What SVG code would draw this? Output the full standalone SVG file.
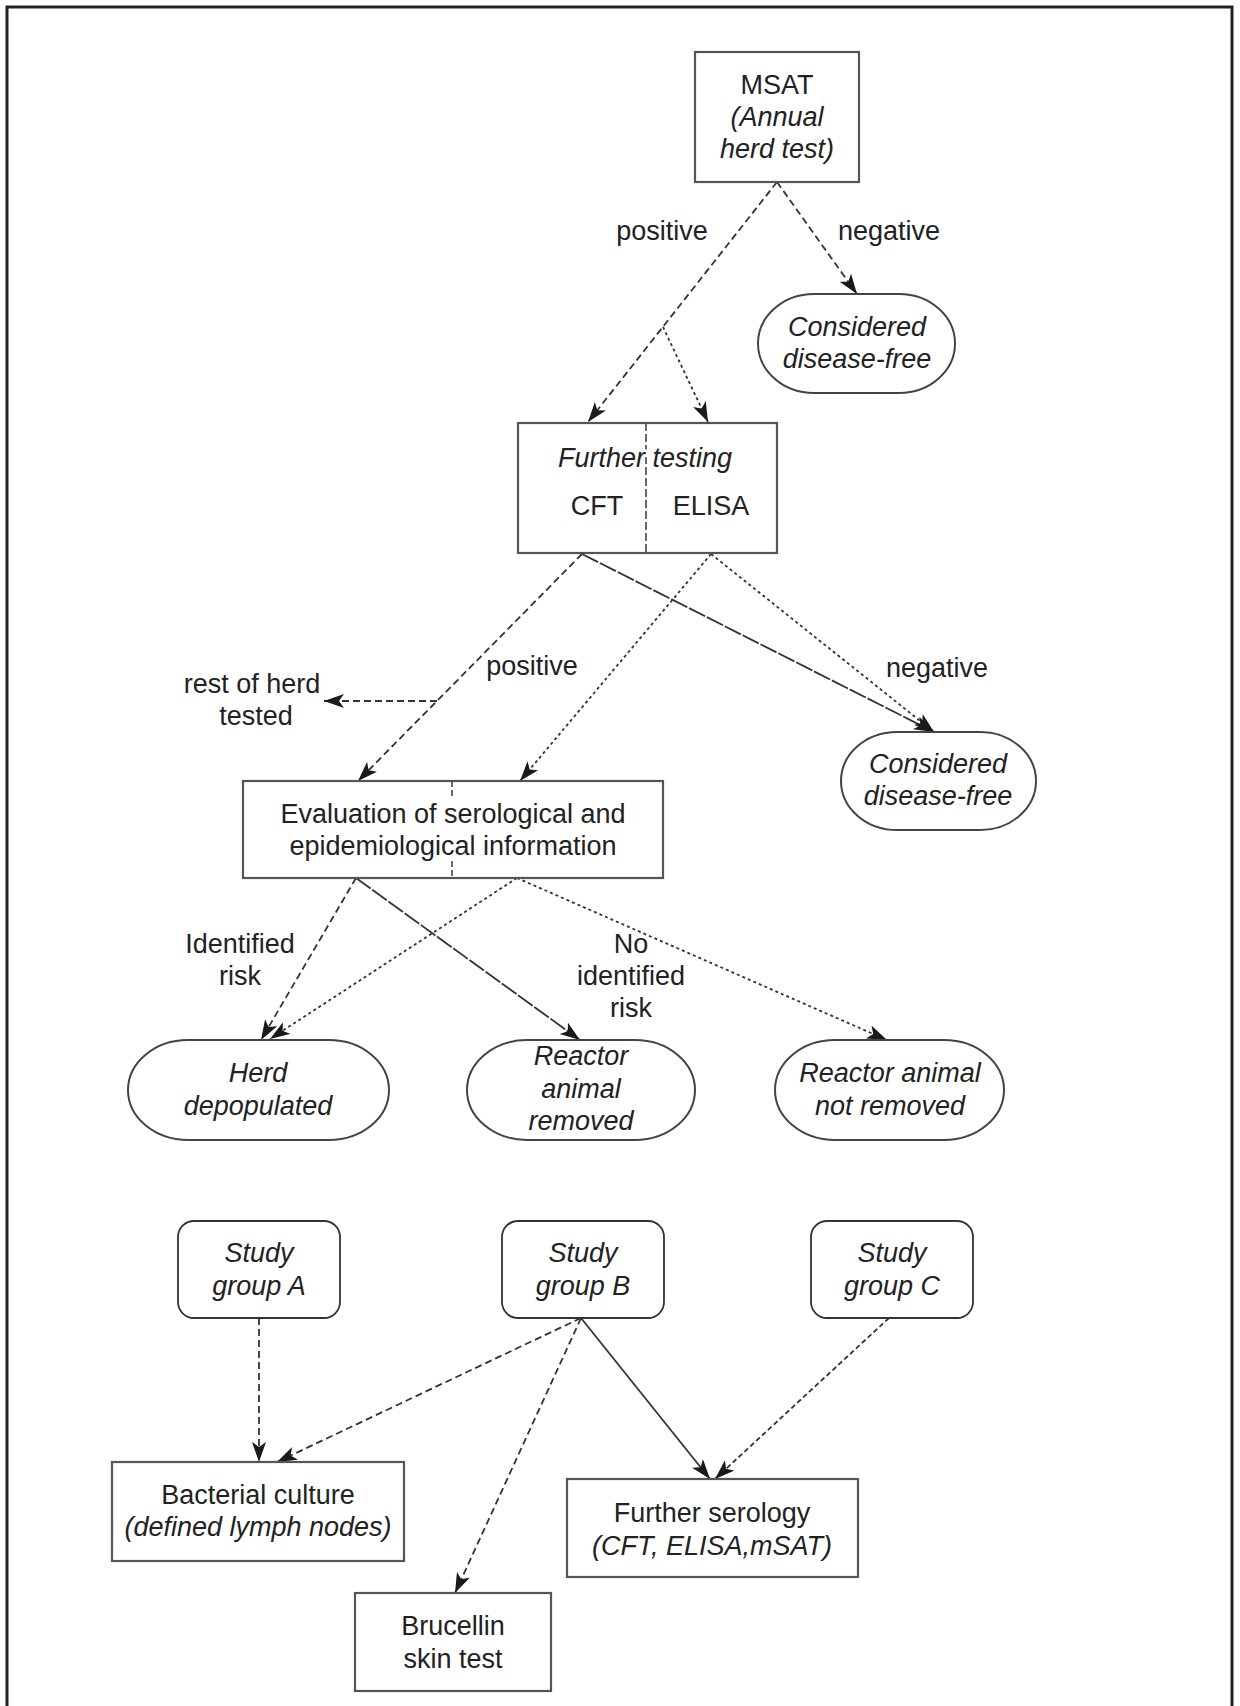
<svg xmlns="http://www.w3.org/2000/svg" width="1240" height="1706" viewBox="0 0 1240 1706">
<style>
  text { font-family: "Liberation Sans", Arial, sans-serif; font-size: 27px; fill: #222; text-anchor: middle; }
  .it { font-style: italic; }
  .box { fill: #fff; stroke: #555; stroke-width: 2.2; }
  .rbox { fill: #fff; stroke: #333; stroke-width: 1.8; }
  .oval { fill: #fff; stroke: #444; stroke-width: 2; }
  .div { stroke: #444; stroke-width: 1.6; stroke-dasharray: 8 3; fill: none; }
  .e { fill: none; stroke: #333; stroke-width: 1.8; }
  .d1 { stroke-dasharray: 7 4; }
  .d2 { stroke-dasharray: 3 3; }
  .d3 { stroke-dasharray: 18 2; }
  .d4 { stroke-dasharray: 5 3; }
  .arr { marker-end: url(#ah); }
</style>
<defs>
  <marker id="ah" markerUnits="userSpaceOnUse" markerWidth="22" markerHeight="16" refX="20" refY="7" orient="auto">
    <path d="M0,0 L20,7 L0,14 L5,7 z" fill="#1a1a1a"/>
  </marker>
</defs>
<rect width="1240" height="1706" fill="#fff"/>
<path d="M7,1706 L7,7 L1232,7 L1232,1706" fill="none" stroke="#222" stroke-width="3"/>

<g id="connectors">
  <line class="e d1 arr" x1="777" y1="182" x2="588" y2="422"/>
  <line class="e d2 arr" x1="663" y1="327" x2="708" y2="422"/>
  <line class="e d1 arr" x1="777" y1="182" x2="857" y2="294"/>
  <line class="e d1 arr" x1="582" y1="554" x2="358" y2="781"/>
  <line class="e d1 arr" x1="437" y1="701" x2="324" y2="701"/>
  <line class="e d3 arr" x1="582" y1="554" x2="934" y2="732"/>
  <line class="e d2 arr" x1="711" y1="554" x2="520" y2="781"/>
  <line class="e d2 arr" x1="711" y1="554" x2="934" y2="732"/>
  <line class="e d1 arr" x1="356" y1="878" x2="261" y2="1040"/>
  <line class="e d3 arr" x1="356" y1="878" x2="580" y2="1040"/>
  <line class="e d2 arr" x1="517" y1="878" x2="270" y2="1039"/>
  <line class="e d2 arr" x1="517" y1="878" x2="887" y2="1040"/>
  <line class="e d1 arr" x1="259" y1="1318" x2="259" y2="1462"/>
  <line class="e d1 arr" x1="581" y1="1318" x2="277" y2="1462"/>
  <line class="e d1 arr" x1="581" y1="1318" x2="455" y2="1593"/>
  <line class="e arr" x1="581" y1="1318" x2="710" y2="1479"/>
  <line class="e d4 arr" x1="889" y1="1318" x2="715" y2="1479"/>
</g>

<g id="msat">
  <rect class="box" x="695" y="52" width="164" height="130"/>
  <text x="777" y="94">MSAT</text>
  <text class="it" x="777" y="126">(Annual</text>
  <text class="it" x="777" y="158">herd test)</text>
</g>

<g id="label-positive-1"><text x="662" y="240">positive</text></g>
<g id="label-negative-1"><text x="889" y="240">negative</text></g>

<g id="free1">
  <rect class="oval" x="758" y="294" width="197" height="99" rx="56" ry="49.5"/>
  <text class="it" x="857" y="336">Considered</text>
  <text class="it" x="857" y="368">disease-free</text>
</g>

<g id="further-testing">
  <rect class="box" x="518" y="423" width="259" height="130"/>
  <line class="div" x1="646" y1="423" x2="646" y2="553"/>
  <text class="it" x="645" y="467" style="paint-order:stroke;stroke:#fff;stroke-width:5px">Further testing</text>
  <text x="597" y="515">CFT</text>
  <text x="711" y="515">ELISA</text>
</g>

<g id="label-rest"><text x="252" y="693">rest of herd</text><text x="256" y="725">tested</text></g>
<g id="label-positive-2"><text x="532" y="675">positive</text></g>
<g id="label-negative-2"><text x="937" y="677">negative</text></g>

<g id="free2">
  <rect class="oval" x="841" y="732" width="195" height="98" rx="56" ry="49"/>
  <text class="it" x="938" y="773">Considered</text>
  <text class="it" x="938" y="805">disease-free</text>
</g>

<g id="evaluation">
  <rect class="box" x="243" y="781" width="420" height="97"/>
  <line class="div" x1="452" y1="781" x2="452" y2="799" style="stroke-dasharray:6 3"/>
  <line class="div" x1="452" y1="861" x2="452" y2="878" style="stroke-dasharray:6 3"/>
  <text x="453" y="823">Evaluation of serological and</text>
  <text x="453" y="855">epidemiological information</text>
</g>

<g id="label-identified"><text x="240" y="953">Identified</text><text x="240" y="985">risk</text></g>
<g id="label-no-identified"><text x="631" y="953">No</text><text x="631" y="985">identified</text><text x="631" y="1017">risk</text></g>

<g id="herd-depopulated">
  <rect class="oval" x="128" y="1040" width="261" height="100" rx="60" ry="50"/>
  <text class="it" x="258" y="1082">Herd</text>
  <text class="it" x="258" y="1115">depopulated</text>
</g>

<g id="reactor-removed">
  <rect class="oval" x="467" y="1040" width="228" height="100" rx="60" ry="50"/>
  <text class="it" x="581" y="1065">Reactor</text>
  <text class="it" x="581" y="1098">animal</text>
  <text class="it" x="581" y="1130">removed</text>
</g>

<g id="reactor-not-removed">
  <rect class="oval" x="775" y="1040" width="229" height="100" rx="60" ry="50"/>
  <text class="it" x="890" y="1082">Reactor animal</text>
  <text class="it" x="890" y="1115">not removed</text>
</g>

<g id="study-a">
  <rect class="rbox" x="178" y="1221" width="162" height="97" rx="16"/>
  <text class="it" x="259" y="1262">Study</text>
  <text class="it" x="259" y="1295">group A</text>
</g>
<g id="study-b">
  <rect class="rbox" x="502" y="1221" width="162" height="97" rx="16"/>
  <text class="it" x="583" y="1262">Study</text>
  <text class="it" x="583" y="1295">group B</text>
</g>
<g id="study-c">
  <rect class="rbox" x="811" y="1221" width="162" height="97" rx="16"/>
  <text class="it" x="892" y="1262">Study</text>
  <text class="it" x="892" y="1295">group C</text>
</g>

<g id="bacterial-culture">
  <rect class="box" x="112" y="1462" width="292" height="99"/>
  <text x="258" y="1504">Bacterial culture</text>
  <text class="it" x="258" y="1536">(defined lymph nodes)</text>
</g>

<g id="further-serology">
  <rect class="box" x="567" y="1479" width="291" height="98"/>
  <text x="712" y="1522">Further serology</text>
  <text class="it" x="712" y="1555">(CFT, ELISA,mSAT)</text>
</g>

<g id="brucellin">
  <rect class="box" x="355" y="1593" width="196" height="98"/>
  <text x="453" y="1635">Brucellin</text>
  <text x="453" y="1668">skin test</text>
</g>
</svg>
